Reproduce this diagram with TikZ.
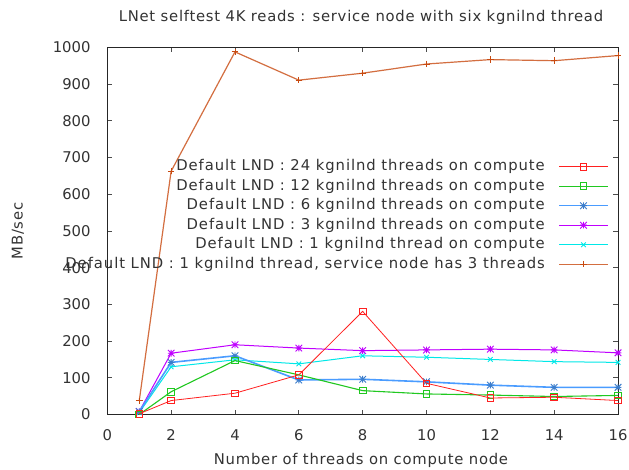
\documentclass[tikz,border=0pt]{standalone}
\usepackage{fontspec}
\setmainfont{DejaVu Sans}
\newfontfamily\widesans[LetterSpace=5]{DejaVu Sans}
\newfontfamily\keysans[LetterSpace=6.3]{DejaVu Sans}
\usetikzlibrary{plotmarks}

% gnuplot style "*" point: a plus sign overlaid with a cross
\pgfdeclareplotmark{gpstar}{%
  \pgfpathmoveto{\pgfqpoint{-\pgfplotmarksize}{0pt}}%
  \pgfpathlineto{\pgfqpoint{\pgfplotmarksize}{0pt}}%
  \pgfpathmoveto{\pgfqpoint{0pt}{-\pgfplotmarksize}}%
  \pgfpathlineto{\pgfqpoint{0pt}{\pgfplotmarksize}}%
  \pgfpathmoveto{\pgfqpoint{-\pgfplotmarksize}{-\pgfplotmarksize}}%
  \pgfpathlineto{\pgfqpoint{\pgfplotmarksize}{\pgfplotmarksize}}%
  \pgfpathmoveto{\pgfqpoint{-\pgfplotmarksize}{\pgfplotmarksize}}%
  \pgfpathlineto{\pgfqpoint{\pgfplotmarksize}{-\pgfplotmarksize}}%
  \pgfusepathqstroke}

\definecolor{gpred}{HTML}{FF2020}
\definecolor{gpgreen}{HTML}{20C820}
\definecolor{gpblue}{HTML}{4A9CFF}
\definecolor{gppurple}{HTML}{C000FF}
\definecolor{gpcyan}{HTML}{00E8E8}
\definecolor{gporange}{HTML}{C84A10}
\definecolor{txt}{HTML}{333333}

\tikzset{
  axisline/.style={draw=black!85, line width=0.9pt},
  tickline/.style={draw=black!70, line width=0.9pt},
  lbl/.style={text=txt, font=\widesans\fontsize{14.8}{16}\selectfont, inner sep=0pt},
  keylbl/.style={text=txt, font=\keysans\fontsize{14.8}{16}\selectfont, inner sep=0pt},
  numlbl/.style={text=txt, font=\fontsize{14.8}{16}\selectfont, inner sep=0pt},
  sRed/.style={draw=gpred, line width=0.8pt, mark=square, mark size=3.3pt, mark options={solid, line width=0.8pt}},
  sGreen/.style={draw=gpgreen, line width=1.1pt, mark=square, mark size=3.3pt, mark options={line width=0.9pt}},
  sBlue/.style={draw=gpblue, line width=1.6pt, mark=gpstar, mark size=3.3pt, mark options={line width=0.9pt, draw=gpblue!80!black}},
  sPurple/.style={draw=gppurple, line width=1.0pt, mark=gpstar, mark size=3.3pt, mark options={line width=0.9pt}},
  sCyan/.style={draw=gpcyan, line width=1.0pt, mark=x, mark size=3.3pt, mark options={line width=0.9pt}},
  sOrange/.style={draw=gporange!80, line width=1.2pt, mark=+, mark size=3.3pt, mark options={line width=0.9pt, draw=gporange}},
}

\begin{document}
\begin{tikzpicture}[x=1pt, y=1pt]
\useasboundingbox (0,0) rectangle (629,469);
\fill[white] (0,0) rectangle (629,469);

% title and axis labels
\node[lbl] (title) at (361,452) {LNet selftest 4K reads : service node with six kgnilnd thread};
\node[lbl] (xlabel) at (361,9) {Number of threads on compute node};
\node[lbl, rotate=90] (ylabel) at (18,238) {MB/sec};

\begin{scope}[shift={(107.3,54.5)}, x=31.92pt, y=0.367pt]
  % ticks on all four sides
  \foreach \t in {0,2,...,16} {
    \draw[tickline] (\t,0) -- ++(0,5pt);
    \draw[tickline] (\t,1000) -- ++(0,-5pt);
    \node[numlbl] (xt\t) at ([yshift=-20.5pt]\t,0) {\t};
  }
  \foreach \v in {0,100,...,1000} {
    \draw[tickline] (0,\v) -- ++(5pt,0);
    \draw[tickline] (16,\v) -- ++(-5pt,0);
    \node[numlbl, anchor=east] (yt\v) at ([xshift=-16.6pt]0,\v) {\v};
  }
  \draw[axisline] (0,0) rectangle (16,1000);

  % data series
  \draw[sOrange] plot coordinates {(1,37) (2,663) (4,988) (6,911) (8,930) (10,955) (12,967) (14,964) (16,978)};
  \draw[sCyan] plot coordinates {(1,5) (2,130) (4,149) (6,138) (8,160) (10,156) (12,150) (14,144) (16,142)};
  \draw[sPurple] plot coordinates {(1,8) (2,167) (4,190) (6,181) (8,174) (10,176) (12,178) (14,176) (16,168)};
  \draw[sBlue] plot coordinates {(1,8) (2,142) (4,160) (6,94) (8,96) (10,89) (12,80) (14,74) (16,74)};
  \draw[sGreen] plot coordinates {(1,0) (2,62) (4,147) (6,108) (8,65) (10,56) (12,53) (14,49) (16,52)};
  \draw[sRed] plot coordinates {(1,2) (2,38) (4,58) (6,108) (8,281) (10,85) (12,45) (14,47) (16,38)};
\end{scope}

% key
\foreach \k/\sty/\txt [count=\i] in {
  kA/sRed/{Default LND : 24 kgnilnd threads on compute},
  kB/sGreen/{Default LND : 12 kgnilnd threads on compute},
  kC/sBlue/{Default LND : 6 kgnilnd threads on compute},
  kD/sPurple/{Default LND : 3 kgnilnd threads on compute},
  kE/sCyan/{Default LND : 1 kgnilnd thread on compute},
  kF/sOrange/{Default LND : 1 kgnilnd thread, service node has 3 threads}} {
  \pgfmathsetmacro{\ky}{469-166.7-19.5*(\i-1)}
  \node[keylbl, anchor=east] (\k) at (545,\ky) {\txt};
  \coordinate (\k a) at (559,\ky);
  \coordinate (\k b) at (608,\ky);
  \draw[\sty, mark indices={2}] plot coordinates {(\k a) (583.5,\ky) (\k b)};
}
\end{tikzpicture}
\end{document}
